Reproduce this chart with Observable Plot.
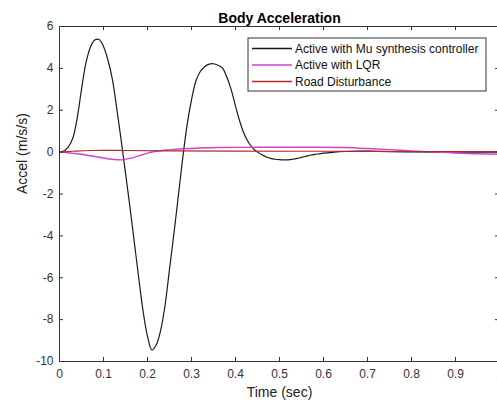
<!DOCTYPE html>
<html><head><meta charset="utf-8">
<script src="https://cdn.jsdelivr.net/npm/d3@7"></script>
<script src="https://cdn.jsdelivr.net/npm/@observablehq/plot@0.6"></script>
<style>
html,body{margin:0;padding:0;overflow:hidden;background:#fff;}
#wrap{position:relative;width:500px;height:406px;}
</style></head><body><div id="wrap"></div>
<script>
const title = "Body Acceleration";
const xLabel = "Time (sec)";
const yLabel = "Accel (m/s/s)";
const seriesNames = ["Active with Mu synthesis controller", "Active with LQR", "Road Disturbance"];
const seriesColors = ["#1a1a1a", "#cc44cc", "#b02a2a"];
const xTicks = [0,0.1,0.2,0.3,0.4,0.5,0.6,0.7,0.8,0.9,1];
const yTicks = [-10,-8,-6,-4,-2,0,2,4,6];

const muT = [0,0.01,0.02,0.03,0.04,0.05,0.06,0.07,0.08,0.09,0.10,0.11,0.12,0.13,0.14,0.15,0.16,0.17,0.18,0.19,0.20,0.21,0.22,0.23,0.24,0.25,0.26,0.27,0.28,0.29,0.30,0.31,0.32,0.33,0.34,0.35,0.36,0.37,0.38,0.39,0.40,0.41,0.42,0.43,0.44,0.45,0.46,0.47,0.48,0.49,0.50,0.51,0.52,0.53,0.54,0.55,0.56,0.57,0.58,0.59,0.60,0.62,0.65,0.68,0.72,0.80,0.90,1.0];
const muV = [0,0.05,0.25,0.65,1.6,3.0,4.25,5.0,5.35,5.38,5.05,4.4,3.5,2.1,0.6,-1.0,-2.6,-4.3,-6.0,-7.6,-8.8,-9.45,-9.2,-8.5,-7.3,-5.6,-3.9,-2.1,-0.3,1.3,2.5,3.4,3.85,4.08,4.2,4.22,4.15,4.02,3.6,3.0,2.2,1.45,0.85,0.45,0.18,0.0,-0.13,-0.23,-0.3,-0.34,-0.36,-0.37,-0.37,-0.34,-0.3,-0.25,-0.2,-0.15,-0.11,-0.08,-0.05,-0.01,0.03,0.05,0.04,0.01,0,0];

const lqrT = [0,0.02,0.04,0.06,0.08,0.10,0.12,0.14,0.16,0.18,0.20,0.22,0.25,0.28,0.32,0.36,0.45,0.55,0.65,0.70,0.75,0.80,0.85,0.90,0.95,1.0];
const lqrV = [0,-0.03,-0.08,-0.14,-0.21,-0.28,-0.34,-0.37,-0.3,-0.18,-0.05,0.04,0.11,0.16,0.2,0.22,0.23,0.23,0.22,0.17,0.12,0.06,0.01,-0.04,-0.08,-0.1];

const roadT = [0,0.03,0.07,0.15,0.25,0.4,0.6,0.8,1.0];
const roadV = [0,0.04,0.08,0.08,0.06,0.05,0.04,0.03,0.03];

const toRows = (ts, vs, name) => ts.map((t, i) => ({t, v: vs[i], name}));
const mu = toRows(muT, muV, seriesNames[0]);
const lqr = toRows(lqrT, lqrV, seriesNames[1]);
const road = toRows(roadT, roadV, seriesNames[2]);

const W = 500, H = 406, mL = 59, mR = 1, mT = 26, mB = 45;
const pw = W - mL - mR, ph = H - mT - mB;
const axisColor = "#333";
const font = "'Liberation Sans', Arial, sans-serif";

const plot = Plot.plot({
  width: W, height: H,
  marginLeft: mL, marginRight: mR, marginTop: mT, marginBottom: mB,
  style: {fontFamily: font, fontSize: "12px", color: axisColor, background: "#fff", maxWidth: "none", overflow: "visible"},
  x: {domain: [0, 1]},
  y: {domain: [-10, 6]},
  marks: [
    Plot.line(mu, {x: "t", y: "v", stroke: seriesColors[0], strokeWidth: 1.2, curve: "catmull-rom"}),
    Plot.line(lqr, {x: "t", y: "v", stroke: seriesColors[1], strokeWidth: 1.4, curve: "catmull-rom"}),
    Plot.line(road, {x: "t", y: "v", stroke: seriesColors[2], strokeWidth: 1.1, curve: "catmull-rom"}),
    Plot.frame({stroke: axisColor, strokeWidth: 1}),
    Plot.ruleX(xTicks, {x: d => d, stroke: axisColor, insetTop: ph - 4}),
    Plot.ruleX(xTicks, {x: d => d, stroke: axisColor, insetBottom: ph - 4}),
    Plot.ruleY(yTicks, {y: d => d, stroke: axisColor, insetRight: pw - 4}),
    Plot.ruleY(yTicks, {y: d => d, stroke: axisColor, insetLeft: pw - 4}),
    Plot.axisX(xTicks, {tickSize: 0, tickPadding: 8, label: null, fill: axisColor, tickFormat: d => String(d)}),
    Plot.axisY(yTicks, {tickSize: 0, tickPadding: 6, label: null, fill: axisColor, tickFormat: d => String(d)}),
    Plot.text([title], {frameAnchor: "top", dy: -13, fontWeight: "bold", fontSize: 14, fill: "#000"}),
    Plot.text([xLabel], {frameAnchor: "bottom", dy: 35, fontSize: 14, fill: "#222"}),
    Plot.text([yLabel], {frameAnchor: "left", dx: -37, rotate: -90, fontSize: 14, fill: "#222"})
  ]
});
document.getElementById("wrap").appendChild(plot);

// Legend box (MATLAB style)
const svg = d3.select(plot);
const lg = svg.append("g").attr("transform", "translate(248,38)").attr("text-anchor", "start");
lg.append("rect").attr("width", 238).attr("height", 53).attr("fill", "#fff").attr("stroke", axisColor).attr("stroke-width", 1);
seriesNames.forEach((name, i) => {
  const y = 10.5 + i * 16.5;
  lg.append("line").attr("x1", 4).attr("x2", 44).attr("y1", y).attr("y2", y)
    .attr("stroke", seriesColors[i]).attr("stroke-width", 1.3);
  lg.append("text").attr("x", 47).attr("y", y).attr("dy", "0.35em").attr("text-anchor", "start")
    .attr("font-family", font).attr("font-size", 12).attr("fill", "#111").text(name);
});
</script></body></html>
